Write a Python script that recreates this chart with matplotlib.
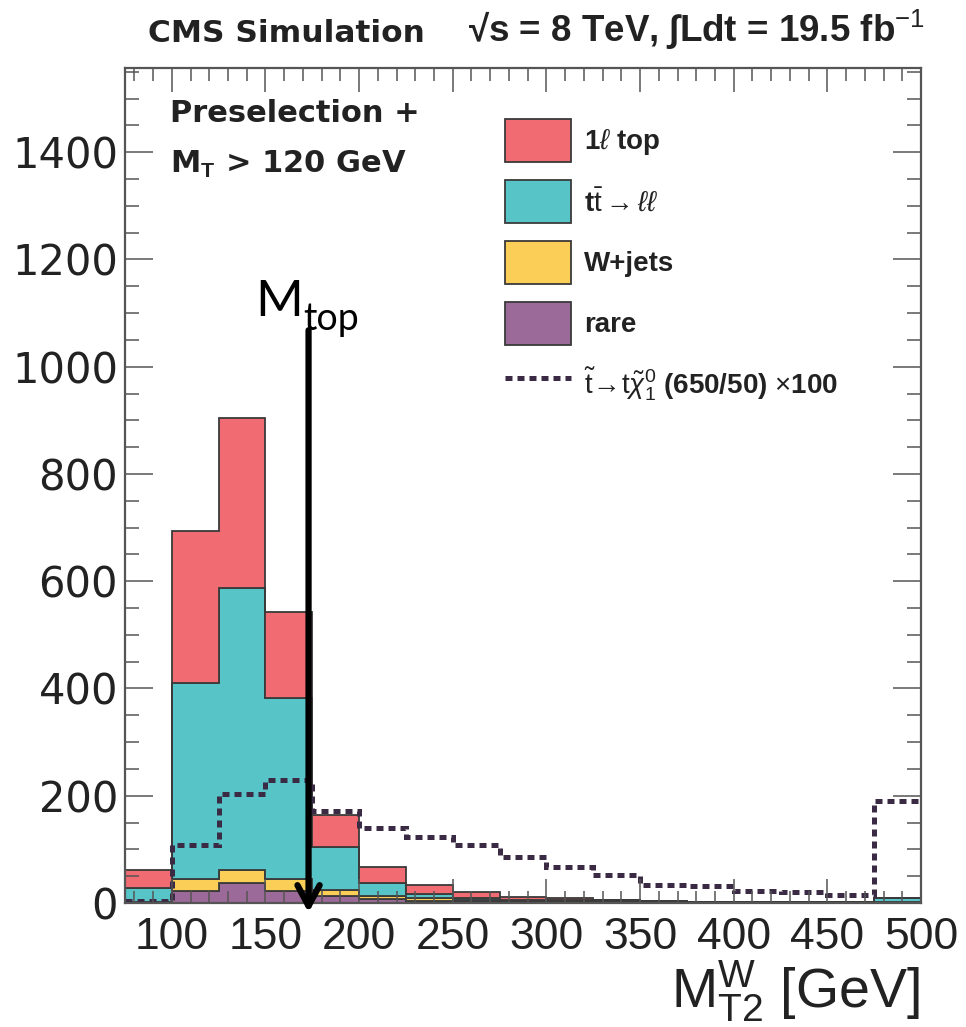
import matplotlib
matplotlib.use("Agg")
import matplotlib.pyplot as plt
from matplotlib.lines import Line2D
from matplotlib.patches import Patch
from matplotlib.ticker import MultipleLocator

plt.rcParams["mathtext.fontset"] = "custom"
plt.rcParams["mathtext.rm"] = "Liberation Sans"
plt.rcParams["mathtext.it"] = "Liberation Sans:italic"
plt.rcParams["mathtext.bf"] = "Liberation Sans:bold"

# bins of M_T2^W [GeV], last bin holds overflow
bin_edges = [75, 100, 125, 150, 175, 200, 225, 250, 275, 300,
             325, 350, 375, 400, 425, 450, 475, 500]

# stacked backgrounds (events), bottom to top
rare = [1, 22, 38, 22, 13, 7, 4, 3, 2, 2, 2, 1, 1, 1, 1, 1, 2]
wjets = [1, 22, 23, 22, 11, 6, 5, 2, 1, 1, 1, 0.5, 0.5, 0.5, 0.5, 0.5, 0]
ttll = [26, 366, 526, 339, 80, 24, 8, 5, 3, 2, 2, 1.5, 0.5, 0.5, 0.5, 0.5, 7]
onelep = [33, 283, 318, 160, 60, 30, 16, 11, 5, 4, 1, 1, 0.5, 0.3, 0.3, 0.3, 1]

# signal stop (650/50) x100
signal = [4, 108, 204, 229, 172, 139, 124, 108, 85, 67, 52, 34, 32, 22, 20, 15, 190]

m_top = 173

W, H = 966, 1027
fig = plt.figure(figsize=(W / 100, H / 100), dpi=100)
ax = fig.add_axes([125 / W, 1 - 903 / H, 796 / W, 835 / H])

edge_col = "#3a3a3a"
lbl_tt = r"t$\bar{\rm t}\rightarrow\ell\ell$"
lbl_1l = r"1$\ell$ top"
layers = [
    ("rare", rare, "#9b6a98"),
    ("W+jets", wjets, "#fbcf57"),
    (lbl_tt, ttll, "#57c4c7"),
    (lbl_1l, onelep, "#f06c72"),
]
base = [0] * len(rare)
handles = {}
for label, vals, col in layers:
    top = [b + v for b, v in zip(base, vals)]
    ax.stairs(top, bin_edges, baseline=base, fill=True,
              facecolor=col, edgecolor=edge_col, linewidth=1.3)
    handles[label] = Patch(facecolor=col, edgecolor=edge_col, linewidth=1.3)
    base = top

sig_col = "#3b2a44"
sig_ls = (0, (1.4, 1.0))
ax.stairs(signal, bin_edges, baseline=None, edgecolor=sig_col,
          linewidth=3.6, linestyle=sig_ls)

# M_top arrow
ax.annotate("", xy=(m_top, -18), xytext=(m_top, 1068),
            arrowprops=dict(arrowstyle="->,head_length=0.75,head_width=0.4",
                            lw=4.5, color="black", shrinkA=0, shrinkB=0,
                            mutation_scale=20),
            annotation_clip=False, zorder=10)
fig.text(255 / W, 1 - 316 / H, "M", fontsize=37, family="Lato",
         va="baseline", ha="left")
fig.text(303 / W, 1 - 330 / H, "top", fontsize=27, family="Lato",
         va="baseline", ha="left")

ax.set_xlim(75, 500)
ax.set_ylim(0, 1557)

ax.xaxis.set_major_locator(MultipleLocator(50))
ax.xaxis.set_minor_locator(MultipleLocator(10))
ax.yaxis.set_major_locator(MultipleLocator(200))
ax.yaxis.set_minor_locator(MultipleLocator(50))

frame_col = "#555555"
for sp in ax.spines.values():
    sp.set_color(frame_col)
    sp.set_linewidth(1.6)
ax.tick_params(which="both", direction="in", top=True, right=True,
               color=frame_col, width=1.1, labelcolor="#222222")
ax.tick_params(axis="x", which="major", length=17, pad=10, labelsize=32)
ax.tick_params(axis="x", which="minor", length=9)
ax.tick_params(axis="y", which="major", length=20, pad=5, labelsize=30)
ax.tick_params(axis="y", which="minor", length=10)
for lab in ax.get_xticklabels():
    lab.set_family("Liberation Sans")
for lab in ax.get_yticklabels():
    lab.set_family("DejaVu Sans")

fig.text(920 / W, 1 - 1008 / H, r"M$_{\rm T2}^{\rm W}$ [GeV]", fontsize=40,
         family="Liberation Sans", ha="right", va="baseline", color="#222222")

# header
fig.text(148 / W, 1 - 42 / H, "CMS Simulation", fontsize=22.5,
         family="DejaVu Sans", weight="bold", ha="left", va="baseline",
         color="#222222")
fig.text(925 / W, 1 - 42 / H,
         "\u221as = 8 TeV, \u222bLdt = 19.5 fb$^{-1}$", fontsize=26.5,
         family=["Liberation Sans", "DejaVu Sans"], weight="bold",
         ha="right", va="baseline", color="#222222")

fig.text(170 / W, 1 - 122 / H, "Preselection +", fontsize=22,
         family="DejaVu Sans", weight="bold", va="baseline", color="#222222")
fig.text(170 / W, 1 - 173 / H, r"M$_\mathbf{T}$ > 120 GeV", fontsize=22,
         family="DejaVu Sans", weight="bold", va="baseline", color="#222222")

sig_handle = Line2D([], [], color=sig_col, linewidth=3.6, linestyle=sig_ls)
leg_handles = [handles[lbl_1l], handles[lbl_tt],
               handles["W+jets"], handles["rare"], sig_handle]
leg_labels = [lbl_1l, lbl_tt, "W+jets", "rare",
              r"$\tilde{\rm t}\!\rightarrow\!{\rm t}\tilde{\chi}^{0}_{1}$ (650/50) $\times$100"]
ax.legend(leg_handles, leg_labels, loc="upper left",
          bbox_to_anchor=(505 / W, 1 - 119 / H), bbox_transform=fig.transFigure,
          frameon=False, borderpad=0, borderaxespad=0,
          prop=dict(family="Liberation Sans", weight="bold", size=20),
          handlelength=2.37, handleheight=2.0, handletextpad=0.47,
          labelspacing=0.65, labelcolor="#222222")

fig.savefig("out.png", dpi=100)
